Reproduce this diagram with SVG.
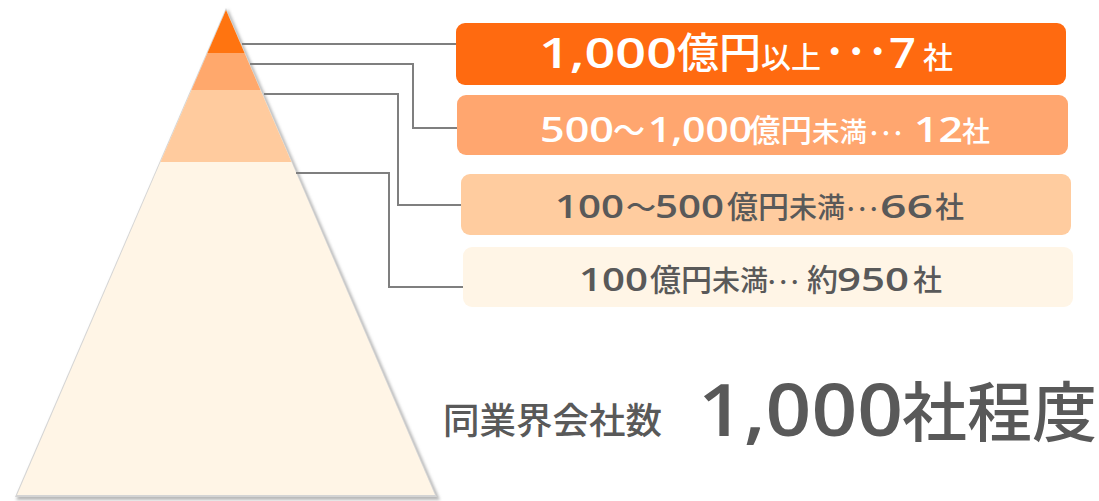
<svg xmlns="http://www.w3.org/2000/svg" width="1099" height="501" viewBox="0 0 1099 501">
<defs>
<style>
text{font-family:"Noto Sans CJK JP","Noto Sans",sans-serif;font-weight:500}
.n{font-family:"Open Sans","Noto Sans",sans-serif;font-weight:600}
.w{fill:#ffffff}
.g{fill:#595959}
.conn{fill:none;stroke:#7f7f7f;stroke-width:2}
</style>
<filter id="sh" x="-10%" y="-10%" width="120%" height="120%">
<feGaussianBlur stdDeviation="1.5"/>
</filter>
<clipPath id="pyr"><polygon points="226,10 435,495 17,495"/></clipPath>
</defs>
<rect width="1099" height="501" fill="#ffffff"/>
<g id="pyramid">
<polygon points="228,9 440,500 16,500" fill="#b8b8b8" filter="url(#sh)"/>
<polygon points="226,8 437,497 15,497" fill="#d4d4d4"/>
<g clip-path="url(#pyr)">
<rect x="0" y="0" width="500" height="501" fill="#FFF5E6"/>
<rect x="0" y="90" width="500" height="72" fill="#FFCB9E"/>
<rect x="0" y="53" width="500" height="37" fill="#FFA86C"/>
<rect x="0" y="0" width="500" height="53" fill="#FF7410"/>
</g>
</g>
<g id="connectors">
<path class="conn" d="M242,44 H457"/>
<path class="conn" d="M250,64 H413 V128 H458"/>
<path class="conn" d="M264,94 H398 V205 H462"/>
<path class="conn" d="M296,173 H389 V287 H464"/>
</g>
<g id="box1">
<rect x="456" y="23" width="610" height="62" rx="9" fill="#FF6A10"/>
<text class="w" y="68"><tspan class="n" x="539" font-size="41" textLength="138" lengthAdjust="spacingAndGlyphs">1,000</tspan><tspan x="677" font-size="42">億円</tspan><tspan x="761" font-size="30">以上</tspan><tspan x="824" font-size="43">･･･</tspan><tspan class="n" x="889" font-size="41" textLength="27" lengthAdjust="spacingAndGlyphs">7</tspan><tspan x="923" font-size="30">社</tspan></text>
</g>
<g id="box2">
<rect x="457" y="95" width="611" height="60" rx="9" fill="#FFA66F"/>
<text class="w" y="142"><tspan class="n" x="540" font-size="34" textLength="74" lengthAdjust="spacingAndGlyphs">500</tspan><tspan x="613" font-size="32">～</tspan><tspan class="n" x="648" font-size="34" textLength="104" lengthAdjust="spacingAndGlyphs">1,000</tspan><tspan x="749" font-size="31.5">億円</tspan><tspan x="812" font-size="27.5">未満</tspan><tspan x="868" font-size="24">･･･</tspan><tspan class="n" x="914" font-size="34" textLength="49" lengthAdjust="spacingAndGlyphs">12</tspan><tspan x="962" font-size="28">社</tspan></text>
</g>
<g id="box3">
<rect x="461" y="174" width="610" height="61" rx="9" fill="#FFCC9F"/>
<text class="g" y="218"><tspan class="n" x="555" font-size="32" textLength="69" lengthAdjust="spacingAndGlyphs">100</tspan><tspan x="626" font-size="30">～</tspan><tspan class="n" x="655" font-size="32" textLength="69" lengthAdjust="spacingAndGlyphs">500</tspan><tspan x="727" font-size="31">億円</tspan><tspan x="789" font-size="28">未満</tspan><tspan x="845" font-size="23">･･･</tspan><tspan class="n" x="880" font-size="32" textLength="53" lengthAdjust="spacingAndGlyphs">66</tspan><tspan x="935" font-size="29">社</tspan></text>
</g>
<g id="box4">
<rect x="463" y="247" width="610" height="60" rx="9" fill="#FFF5E6"/>
<text class="g" y="291"><tspan class="n" x="579" font-size="32" textLength="69" lengthAdjust="spacingAndGlyphs">100</tspan><tspan x="650" font-size="31">億円</tspan><tspan x="712" font-size="28">未満</tspan><tspan x="766" font-size="23">･･･</tspan><tspan x="807" font-size="31">約</tspan><tspan class="n" x="837" font-size="32" textLength="72" lengthAdjust="spacingAndGlyphs">950</tspan><tspan x="913" font-size="29">社</tspan></text>
</g>
<g id="total">
<text class="g" x="443" y="434" font-size="36.5">同業界会社数</text>
<text class="g" y="436"><tspan class="n" x="698" font-size="72" textLength="205" lengthAdjust="spacingAndGlyphs">1,000</tspan><tspan x="902" font-size="65">社程度</tspan></text>
</g>
</svg>
